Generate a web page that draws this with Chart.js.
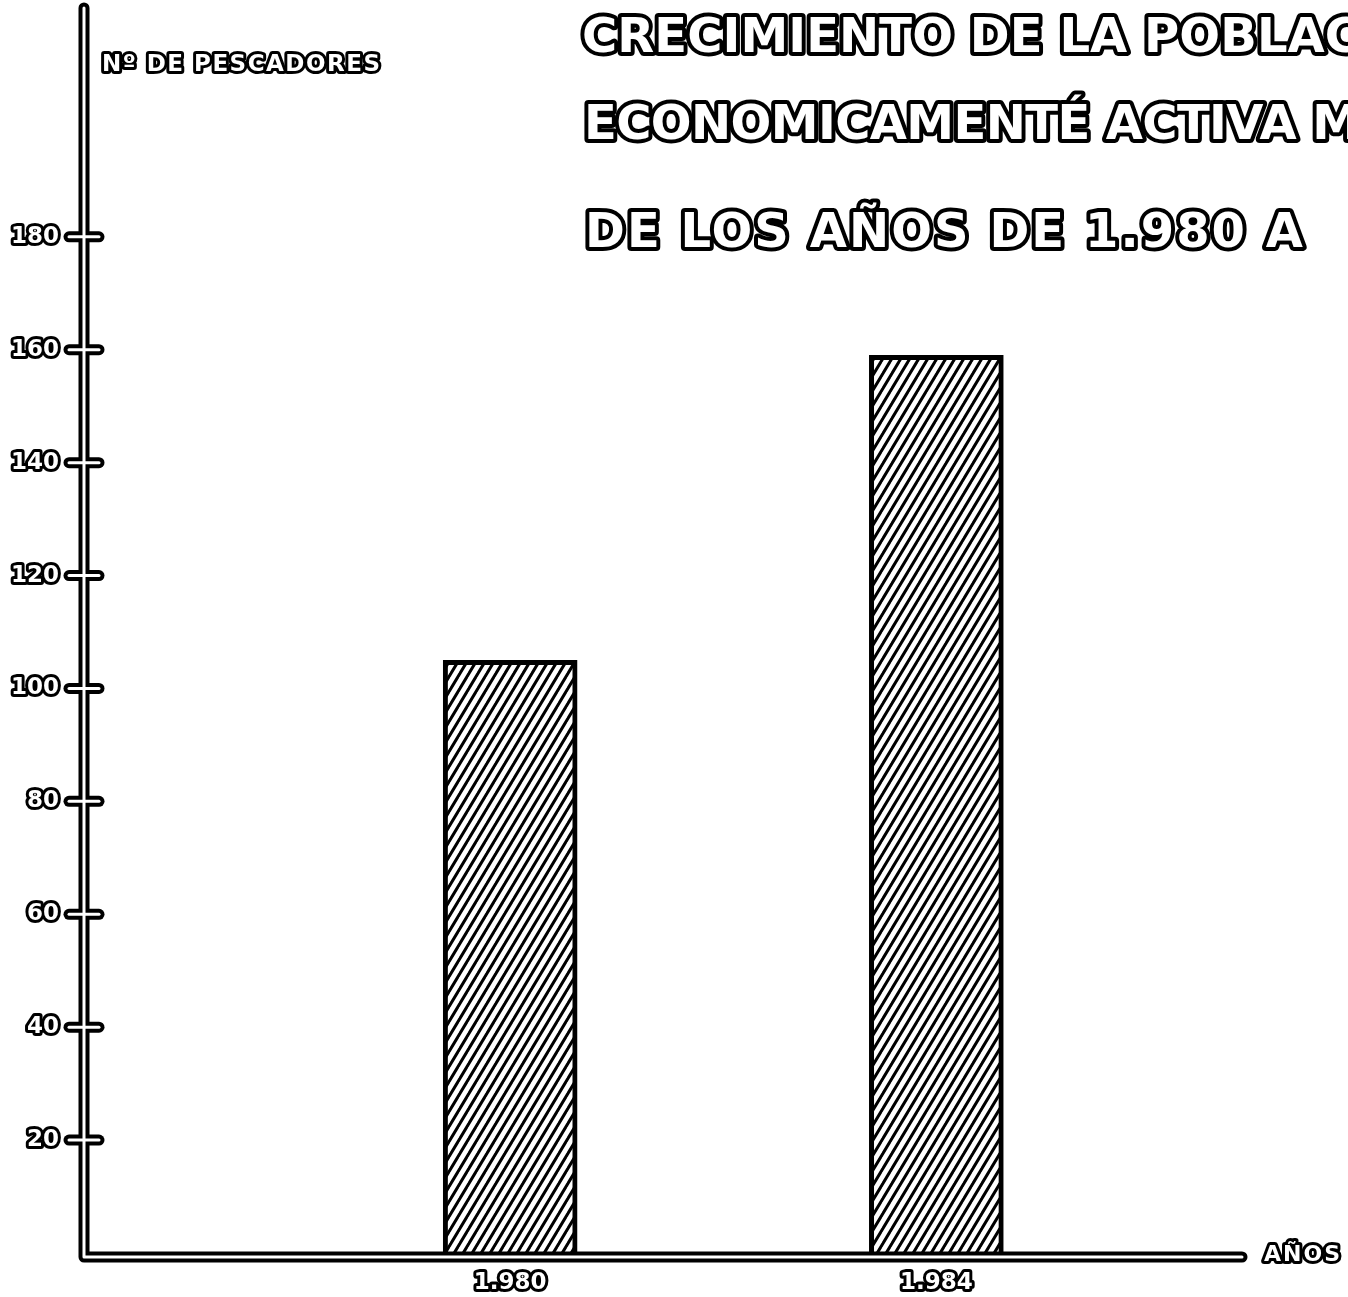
<!DOCTYPE html>
<html>
<head>
<meta charset="utf-8">
<script src="https://cdn.jsdelivr.net/npm/chart.js@4"></script>
<style>
html, body { margin: 0; padding: 0; background: #fff; }
</style>
</head>
<body>
<canvas id="grafico" width="1348" height="1297"></canvas>
<script>
// datos
const years = [1980, 1984];
const yearLabels = ['1.980', '1.984'];
const pescadores = [105, 159];
const yTicks = [20, 40, 60, 80, 100, 120, 140, 160, 180];
const titleLines = ['CRECIMIENTO DE LA POBLAC', 'ECONOMICAMENTÉ ACTIVA M', 'DE LOS AÑOS DE 1.980 A'];
const yTitle = 'Nº DE PESCADORES';
const xTitle = 'AÑOS';

const FONT = '"DejaVu Sans", "Liberation Sans", sans-serif';

// rayado diagonal de las barras
function Rayado() {
    const c = document.createElement('canvas');
    c.width = 9;
    c.height = 15;
    const x = c.getContext('2d');
    x.fillStyle = '#fff';
    x.fillRect(0, 0, 9, 15);
    x.strokeStyle = '#000';
    x.lineWidth = 3;
    x.beginPath();
    x.moveTo(-1, 16.7); x.lineTo(10, -1.7);
    x.moveTo(-1, 1.7); x.lineTo(1, -1.7);
    x.moveTo(8, 16.7); x.lineTo(10, 13.3);
    x.stroke();
    return x.createPattern(c, 'repeat');
}

// letras blancas con contorno negro
function Rotulo(ctx, text, x, y, size, width) {
    ctx.font = 'bold ' + size + 'px ' + FONT;
    ctx.letterSpacing = '0px';
    if (width) {
        let w = ctx.measureText(text).width;
        ctx.letterSpacing = ((width - w) / (text.length - 1)) + 'px';
    }
    ctx.textAlign = 'left';
    ctx.textBaseline = 'middle';
    ctx.lineJoin = 'round';
    ctx.lineWidth = Math.max(6, size / 6);
    ctx.strokeStyle = '#000';
    ctx.strokeText(text, x, y);
    ctx.fillStyle = '#fff';
    ctx.fillText(text, x, y);
    ctx.letterSpacing = '0px';
}

const dibujo = {
    id: 'dibujo',
    beforeDraw(chart) {
        chart.ctx.lineJoin = 'round';
    },
    afterDatasetsDraw(chart) {
        const ctx = chart.ctx;
        const a = chart.chartArea;
        const ys = chart.scales.y;
        const base = ys.getPixelForValue(0) + 4;
        ctx.save();
        ctx.lineCap = 'round';
        ctx.lineJoin = 'round';
        function trazos() {
            ctx.beginPath();
            ctx.moveTo(a.left, 8);
            ctx.lineTo(a.left, base);
            ctx.lineTo(a.right + 2, base);
            ctx.stroke();
            yTicks.forEach(v => {
                let py = ys.getPixelForValue(v);
                ctx.beginPath();
                ctx.moveTo(a.left - 15, py);
                ctx.lineTo(a.left + 15, py);
                ctx.stroke();
            });
        }
        // doble linea: negro grueso y blanco fino encima
        ctx.strokeStyle = '#000';
        ctx.lineWidth = 11;
        trazos();
        ctx.strokeStyle = '#fff';
        ctx.lineWidth = 3;
        trazos();

        // textos
        Rotulo(ctx, titleLines[0], 582, 40, 48, 778);
        Rotulo(ctx, titleLines[1], 584, 127, 48, 776);
        Rotulo(ctx, titleLines[2], 585, 235, 48, 718);
        Rotulo(ctx, yTitle, 102, 65, 23, 278);
        Rotulo(ctx, xTitle, 1264, base - 2, 22, 76);
        ctx.restore();
    }
};

const tickFont = { family: FONT, size: 23, weight: 'bold' };

const data = {
    datasets: [{
        data: years.map((y, i) => ({ x: y, y: pescadores[i] })),
        backgroundColor: Rayado(),
        borderColor: '#000',
        borderWidth: 5,
        borderSkipped: 'bottom',
        barThickness: 134
    }]
};

const config = {
    type: 'bar',
    data: data,
    options: {
        responsive: false,
        animation: false,
        devicePixelRatio: 1,
        layout: { padding: { top: 11, right: 108, left: 0, bottom: 0 } },
        plugins: {
            legend: { display: false },
            tooltip: { enabled: false },
            title: { display: false }
        },
        scales: {
            x: {
                type: 'linear',
                offset: false,
                min: 1976,
                max: 1986.85,
                afterBuildTicks: s => { s.ticks = years.map(v => ({ value: v })); },
                afterFit: s => {
                    s.height = 44;
                    s.paddingLeft = 0;
                    s.paddingRight = 0;
                },
                grid: { display: false, offset: false, drawTicks: false },
                border: { display: false },
                ticks: {
                    autoSkip: false,
                    maxRotation: 0,
                    padding: 16,
                    color: '#fff',
                    textStrokeColor: '#000',
                    textStrokeWidth: 6,
                    font: tickFont,
                    callback: v => yearLabels[years.indexOf(v)]
                }
            },
            y: {
                min: 0,
                max: 220,
                afterBuildTicks: s => { s.ticks = yTicks.map(v => ({ value: v })); },
                afterFit: s => {
                    s.width = 84;
                    s.paddingTop = 0;
                    s.paddingBottom = 0;
                },
                grid: { display: false, drawTicks: false },
                border: { display: false },
                ticks: {
                    padding: 25,
                    color: '#fff',
                    textStrokeColor: '#000',
                    textStrokeWidth: 6,
                    font: tickFont
                }
            }
        }
    },
    plugins: [dibujo]
};

var myChart = new Chart(document.getElementById('grafico'), config);
</script>
</body>
</html>
